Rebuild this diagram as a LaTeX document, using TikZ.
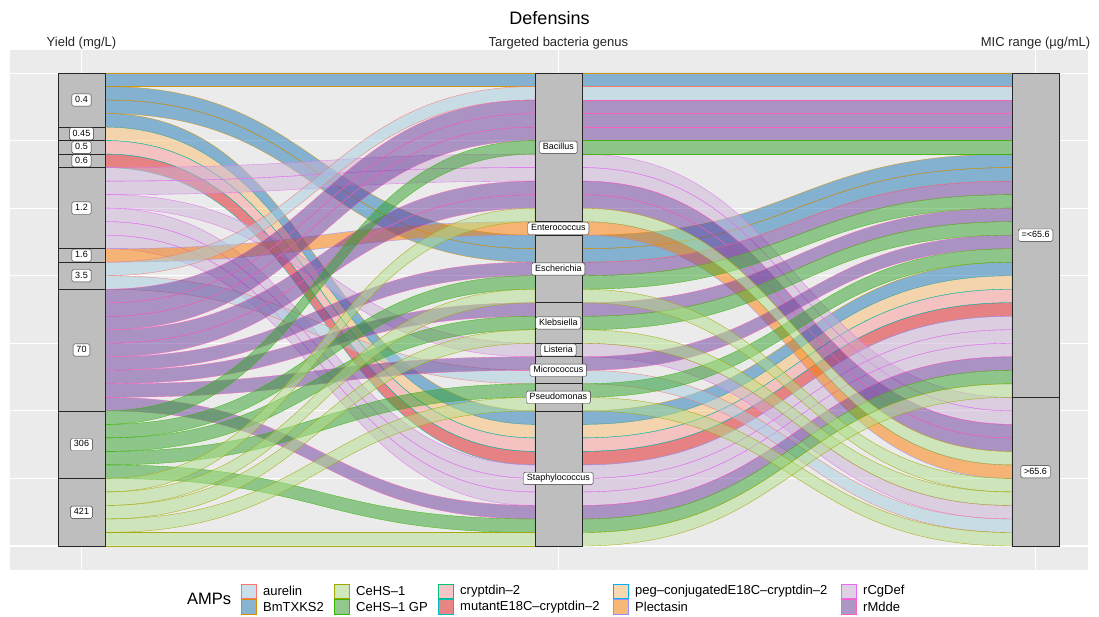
\documentclass[tikz,border=0pt]{standalone}
\usepackage{fontspec}
\setmainfont{Liberation Sans}
\usepackage{xcolor}
\usepackage{tikz}
\usetikzlibrary{positioning}

% AMP fills (Paired) and outlines (hue)
\definecolor{aurfill}{HTML}{A6CEE3}\definecolor{aurline}{HTML}{F8766D}
\definecolor{bmfill}{HTML}{1F78B4}\definecolor{bmline}{HTML}{D89000}
\definecolor{cehfill}{HTML}{B2DF8A}\definecolor{cehline}{HTML}{A3A500}
\definecolor{gpfill}{HTML}{33A02C}\definecolor{gpline}{HTML}{39B600}
\definecolor{cryfill}{HTML}{FB9A99}\definecolor{cryline}{HTML}{00BF7D}
\definecolor{mutfill}{HTML}{E31A1C}\definecolor{mutline}{HTML}{00BFC4}
\definecolor{pegfill}{HTML}{FDBF6F}\definecolor{pegline}{HTML}{00B0F6}
\definecolor{plefill}{HTML}{FF7F00}\definecolor{pleline}{HTML}{9590FF}
\definecolor{rcgfill}{HTML}{CAB2D6}\definecolor{rcgline}{HTML}{E76BF3}
\definecolor{rmdfill}{HTML}{6A3D9A}\definecolor{rmdline}{HTML}{FF62BC}
\definecolor{panelgrey}{HTML}{EBEBEB}
\definecolor{stratumgrey}{HTML}{BEBEBE}
\definecolor{keygrey}{HTML}{F2F2F2}

% one alluvium: yield slot, genus slot, MIC slot, AMP
\newcommand{\alluvium}[4]{%
  \pgfmathsetmacro{\ya}{73+13.514*#1}%
  \pgfmathsetmacro{\yb}{73+13.514*#2}%
  \pgfmathsetmacro{\yc}{73+13.514*#3}%
  \filldraw[flow=#4] (105,\ya) .. controls (320,\ya) and (320,\yb) .. (535,\yb)
    -- (535,\yb+13.514) .. controls (320,\yb+13.514) and (320,\ya+13.514) .. (105,\ya+13.514) -- cycle;
  \filldraw[flow=#4] (582,\yb) .. controls (797,\yb) and (797,\yc) .. (1012,\yc)
    -- (1012,\yc+13.514) .. controls (797,\yc+13.514) and (797,\yb+13.514) .. (582,\yb+13.514) -- cycle;
}

\begin{document}
\begin{tikzpicture}[x=1pt, y=-1pt,
  flow/.style={fill=#1fill, draw=#1line, fill opacity=0.5, draw opacity=0.9, line width=0.35pt},
  stratum/.style={draw=black!85, fill=stratumgrey, line width=0.7pt},
  strlabel/.style={draw=black!80, fill=white, rounded corners=1.5pt, line width=0.4pt,
    font=\fontsize{9}{10}\selectfont, inner xsep=3.3pt, inner ysep=2pt,
    text height=6.5pt, text depth=1.8pt},
  axislabel/.style={font=\fontsize{13}{15}\selectfont, text=black!85},
  keybox/.style={fill=#1fill, fill opacity=0.5, draw=#1line, line width=0.9pt},
  legtext/.style={anchor=west, inner sep=0pt, font=\fontsize{13}{15}\selectfont}
]
\useasboundingbox (0,0) rectangle (1099,617);

% Panel and grid
\fill[panelgrey] (10,50) rectangle (1088,570);
\foreach \gy in {73.1,208.2,343.3,478.4}
  \draw[white, line width=0.55pt] (10,\gy) -- (1088,\gy);
\foreach \gy in {140.6,275.7,410.9,546}
  \draw[white, line width=1.1pt] (10,\gy) -- (1088,\gy);
\foreach \gx in {81.5,558.3,1035.5}
  \draw[white, line width=1.1pt] (\gx,50) -- (\gx,570);

% Alluvia
\alluvium{0}{0}{0}{bm}
\alluvium{1}{12}{6}{bm}
\alluvium{2}{13}{7}{bm}
\alluvium{3}{25}{14}{bm}
\alluvium{4}{26}{15}{peg}
\alluvium{5}{27}{16}{cry}
\alluvium{6}{28}{17}{mut}
\alluvium{7}{6}{24}{rcg}
\alluvium{8}{7}{25}{rcg}
\alluvium{9}{20}{32}{rcg}
\alluvium{10}{29}{18}{rcg}
\alluvium{11}{30}{19}{rcg}
\alluvium{12}{31}{20}{rcg}
\alluvium{13}{11}{29}{ple}
\alluvium{14}{1}{1}{aur}
\alluvium{15}{22}{33}{aur}
\alluvium{16}{2}{2}{rmd}
\alluvium{17}{3}{3}{rmd}
\alluvium{18}{4}{4}{rmd}
\alluvium{19}{8}{26}{rmd}
\alluvium{20}{9}{27}{rmd}
\alluvium{21}{14}{8}{rmd}
\alluvium{22}{17}{10}{rmd}
\alluvium{23}{21}{12}{rmd}
\alluvium{24}{32}{21}{rmd}
\alluvium{25}{5}{5}{gp}
\alluvium{26}{15}{9}{gp}
\alluvium{27}{18}{11}{gp}
\alluvium{28}{23}{13}{gp}
\alluvium{29}{33}{22}{gp}
\alluvium{30}{10}{28}{ceh}
\alluvium{31}{16}{30}{ceh}
\alluvium{32}{19}{31}{ceh}
\alluvium{33}{24}{34}{ceh}
\alluvium{34}{34}{23}{ceh}

% Yield strata
\draw[stratum] (58,73) rectangle (105,127.06);
\draw[stratum] (58,127.06) rectangle (105,140.57);
\draw[stratum] (58,140.57) rectangle (105,154.08);
\draw[stratum] (58,154.08) rectangle (105,167.6);
\draw[stratum] (58,167.6) rectangle (105,248.68);
\draw[stratum] (58,248.68) rectangle (105,262.2);
\draw[stratum] (58,262.2) rectangle (105,289.2);
\draw[stratum] (58,289.2) rectangle (105,410.85);
\draw[stratum] (58,410.85) rectangle (105,478.4);
\draw[stratum] (58,478.4) rectangle (105,546);
\node[strlabel] (y1) at (81.5,100) {0.4};
\node[strlabel] (y2) at (81.5,133.8) {0.45};
\node[strlabel] (y3) at (81.5,147.3) {0.5};
\node[strlabel] (y4) at (81.5,160.8) {0.6};
\node[strlabel] (y5) at (81.5,208.1) {1.2};
\node[strlabel] (y6) at (81.5,255.4) {1.6};
\node[strlabel] (y7) at (81.5,275.7) {3.5};
\node[strlabel] (y8) at (81.5,350) {70};
\node[strlabel] (y9) at (81.5,444.6) {306};
\node[strlabel] (y10) at (81.5,512.2) {421};

% Genus strata
\draw[stratum] (535,73) rectangle (582,221.65);
\draw[stratum] (535,221.65) rectangle (582,235.17);
\draw[stratum] (535,235.17) rectangle (582,302.74);
\draw[stratum] (535,302.74) rectangle (582,343.28);
\draw[stratum] (535,343.28) rectangle (582,356.79);
\draw[stratum] (535,356.79) rectangle (582,383.82);
\draw[stratum] (535,383.82) rectangle (582,410.85);
\draw[stratum] (535,410.85) rectangle (582,546);
\node[strlabel] (g1) at (558.3,147.3) {Bacillus};
\node[strlabel] (g2) at (558.3,228.4) {Enterococcus};
\node[strlabel] (g3) at (558.3,269) {Escherichia};
\node[strlabel] (g4) at (558.3,323) {Klebsiella};
\node[strlabel] (g5) at (558.3,350) {Listeria};
\node[strlabel] (g6) at (558.3,370.3) {Micrococcus};
\node[strlabel] (g7) at (558.3,397.3) {Pseudomonas};
\node[strlabel] (g8) at (558.3,478.4) {Staphylococcus};

% MIC strata
\draw[stratum] (1012,73) rectangle (1059,397.34);
\draw[stratum] (1012,397.34) rectangle (1059,546);
\node[strlabel] (m1) at (1035.5,235.2) {=<65.6};
\node[strlabel] (m2) at (1035.5,471.7) {>65.6};

% Titles
\node[font=\fontsize{18}{20}\selectfont] (title) at (549.5,18) {Defensins};
\node[axislabel] (xyield) at (81.5,43) {Yield (mg/L)};
\node[axislabel] (xgenus) at (558.3,43) {Targeted bacteria genus};
\node[axislabel] (xmic) at (1035.5,43) {MIC range (µg/mL)};

% Legend
\node[anchor=west, inner sep=0pt, font=\fontsize{16.5}{18}\selectfont] (amps) at (187,599) {AMPs};
\foreach \kx/\ka/\kb in {241/aur/bm, 334/ceh/gp, 438/cry/mut, 613/peg/ple, 841/rcg/rmd} {
  \fill[keygrey] (\kx,583.5) rectangle +(15.5,15.5);
  \fill[keygrey] (\kx,599) rectangle +(15.5,15.5);
  \filldraw[keybox=\ka] (\kx+0.5,584) rectangle +(14.5,14.5);
  \filldraw[keybox=\kb] (\kx+0.5,599.5) rectangle +(14.5,14.5);
}
\node[legtext] (l1) at (263,591.25) {aurelin};
\node[legtext] (l2) at (263,606.75) {BmTXKS2};
\node[legtext] (l3) at (356,591.25) {CeHS--1};
\node[legtext] (l4) at (356,606.75) {CeHS--1 GP};
\node[legtext] (l5) at (460,591.25) {cryptdin--2};
\node[legtext] (l6) at (460,606.75) {mutantE18C--cryptdin--2};
\node[legtext] (l7) at (635,591.25) {peg--conjugatedE18C--cryptdin--2};
\node[legtext] (l8) at (635,606.75) {Plectasin};
\node[legtext] (l9) at (863,591.25) {rCgDef};
\node[legtext] (l10) at (863,606.75) {rMdde};

\end{tikzpicture}
\end{document}
